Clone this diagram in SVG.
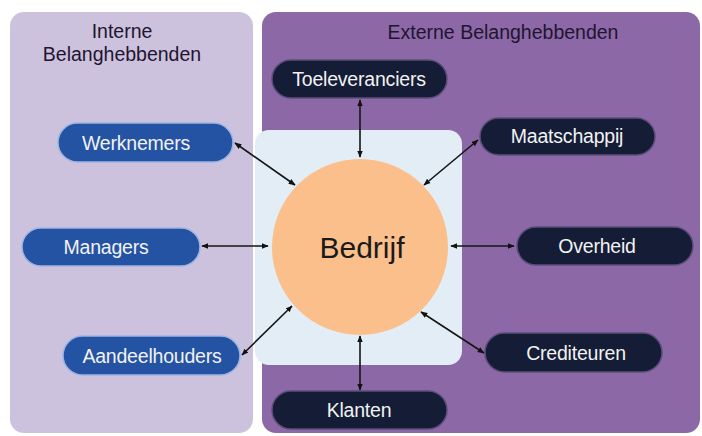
<svg xmlns="http://www.w3.org/2000/svg" width="702" height="436" viewBox="0 0 702 436">
  <defs>
    <marker id="ah" viewBox="0 0 10 10" refX="9" refY="5" markerWidth="7" markerHeight="7" orient="auto-start-reverse" markerUnits="userSpaceOnUse">
      <path d="M0,1 L10,5 L0,9 z" fill="#111"/>
    </marker>
  </defs>
  <style>
    text { font-family: "Liberation Sans", Arial, sans-serif; }
    .panel-title { font-size: 19.5px; fill: #1e1530; text-anchor: middle; }
    .pill-int { fill: #2453a3; stroke: #9db4e3; stroke-width: 1.5; }
    .pill-ext { fill: #141c36; stroke: #5a4d7a; stroke-width: 1.5; }
    .lbl { font-size: 19.5px; fill: #f2f2f2; text-anchor: middle; letter-spacing: -0.2px; }
    .conn { stroke: #151515; stroke-width: 1.6; fill: none; marker-start: url(#ah); marker-end: url(#ah); }
  </style>

  <rect width="702" height="436" fill="#ffffff"/>

  <!-- stakeholder panels -->
  <g id="panel-intern">
    <rect x="10" y="12" width="243" height="421" rx="14" fill="#cdc2de"/>
    <text class="panel-title" x="122" y="38">Interne</text>
    <text class="panel-title" x="122" y="61">Belanghebbenden</text>
  </g>
  <g id="panel-extern">
    <rect x="262" y="12" width="438" height="421" rx="14" fill="#8d68a6"/>
    <text class="panel-title" x="503" y="39">Externe Belanghebbenden</text>
  </g>

  <!-- central area -->
  <g id="bedrijf">
    <rect x="255" y="130" width="207" height="235" rx="14" fill="#e3edf5"/>
    <circle cx="360" cy="247" r="88" fill="#fbbf8c"/>
    <text x="362" y="258" font-size="30" fill="#1a1a1a" text-anchor="middle">Bedrijf</text>
  </g>

  <!-- connectors -->
  <g id="connectors">
    <line class="conn" x1="235" y1="143" x2="295" y2="185"/>
    <line class="conn" x1="202" y1="246" x2="268" y2="246"/>
    <line class="conn" x1="242" y1="355" x2="292" y2="306"/>
    <line class="conn" x1="360" y1="100" x2="360" y2="157"/>
    <line class="conn" x1="478" y1="140" x2="424" y2="185"/>
    <line class="conn" x1="514" y1="246" x2="451" y2="246"/>
    <line class="conn" x1="484" y1="353" x2="421" y2="312"/>
    <line class="conn" x1="360" y1="390" x2="360" y2="336"/>
  </g>

  <!-- internal stakeholders -->
  <g id="werknemers">
    <rect class="pill-int" x="58" y="123" width="175" height="39" rx="19.5"/>
    <text class="lbl" x="136" y="150">Werknemers</text>
  </g>
  <g id="managers">
    <rect class="pill-int" x="22" y="228" width="178" height="38" rx="19"/>
    <text class="lbl" x="106" y="254">Managers</text>
  </g>
  <g id="aandeelhouders">
    <rect class="pill-int" x="63" y="336" width="177" height="39" rx="19.5"/>
    <text class="lbl" x="152" y="363">Aandeelhouders</text>
  </g>

  <!-- external stakeholders -->
  <g id="toeleveranciers">
    <rect class="pill-ext" x="272" y="60" width="175" height="38" rx="19"/>
    <text class="lbl" x="359" y="86">Toeleveranciers</text>
  </g>
  <g id="maatschappij">
    <rect class="pill-ext" x="480" y="118" width="175" height="37" rx="18.5"/>
    <text class="lbl" x="567" y="143">Maatschappij</text>
  </g>
  <g id="overheid">
    <rect class="pill-ext" x="517" y="227" width="176" height="38" rx="19"/>
    <text class="lbl" x="597" y="253">Overheid</text>
  </g>
  <g id="crediteuren">
    <rect class="pill-ext" x="485" y="333" width="177" height="39" rx="19.5"/>
    <text class="lbl" x="576" y="360">Crediteuren</text>
  </g>
  <g id="klanten">
    <rect class="pill-ext" x="272" y="391" width="175" height="38" rx="19"/>
    <text class="lbl" x="359" y="417">Klanten</text>
  </g>
</svg>
